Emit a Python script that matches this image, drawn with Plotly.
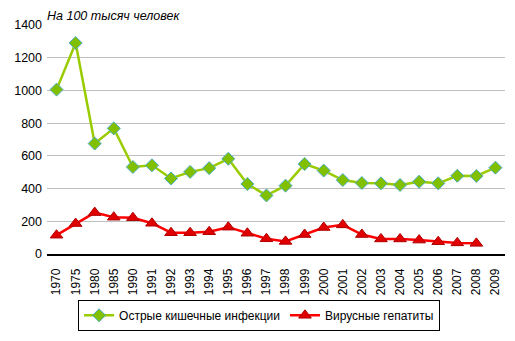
import plotly.graph_objects as go

years = ["1970", "1975", "1980", "1985", "1990", "1991", "1992", "1993", "1994", "1995",
         "1996", "1997", "1998", "1999", "2000", "2001", "2002", "2003", "2004", "2005",
         "2006", "2007", "2008", "2009"]
intestinal = [1005, 1290, 675, 768, 532, 542, 462, 502, 525, 582,
              428, 358, 418, 550, 510, 452, 434, 432, 422, 442,
              432, 478, 477, 528]
hepatitis = [115, 186, 253, 225, 222, 188, 130, 130, 136, 164,
             127, 93, 77, 119, 162, 178, 119, 92, 92, 85,
             75, 68, 65, None]
y_ticks = [0, 200, 400, 600, 800, 1000, 1200, 1400]

FONT = "Liberation Sans, Arial, sans-serif"

fig = go.Figure()
fig.add_trace(go.Scatter(
    x=years, y=intestinal, mode="lines+markers",
    name="Острые кишечные инфекции",
    line=dict(color="#99CC00", width=2.5),
    marker=dict(symbol="diamond", size=10, color="#80C000",
                line=dict(color="#4BACC6", width=1)),
))
fig.add_trace(go.Scatter(
    x=years, y=hepatitis, mode="lines+markers",
    name="Вирусные гепатиты",
    line=dict(color="#FF0000", width=2.5),
    marker=dict(symbol="triangle-up", size=11, color="#E00000",
                line=dict(color="#B00000", width=1)),
))

fig.add_annotation(
    text="<i>На 100 тысяч человек</i>", xref="paper", yref="paper",
    x=-0.005, y=1.0, xanchor="left", yanchor="bottom", showarrow=False,
    font=dict(family=FONT, size=12.5, color="#000000"),
)

fig.update_layout(
    width=515, height=341,
    margin=dict(l=47, r=10, t=25, b=83),
    plot_bgcolor="white", paper_bgcolor="white",
    font=dict(family=FONT, size=12, color="#000000"),
    showlegend=True,
    legend=dict(
        orientation="h", x=0.463, y=-0.2, xanchor="center", yanchor="top",
        bordercolor="#000000", borderwidth=1, font=dict(family=FONT, size=12),
        itemwidth=30,
    ),
    xaxis=dict(
        type="category", categoryorder="array", categoryarray=years,
        tickangle=-90, showgrid=False, showline=True, linecolor="#000000",
        linewidth=1.5, ticks="", tickfont=dict(size=12), range=[-0.5, 23.5],
        ticklabelstandoff=8,
    ),
    yaxis=dict(
        range=[0, 1400], tickvals=y_ticks, showgrid=True, gridcolor="#BFBFBF",
        gridwidth=1, zeroline=False, showline=False, ticks="",
        tickfont=dict(size=12.5), ticklabelstandoff=4,
    ),
)

fig.write_html("out.html")
